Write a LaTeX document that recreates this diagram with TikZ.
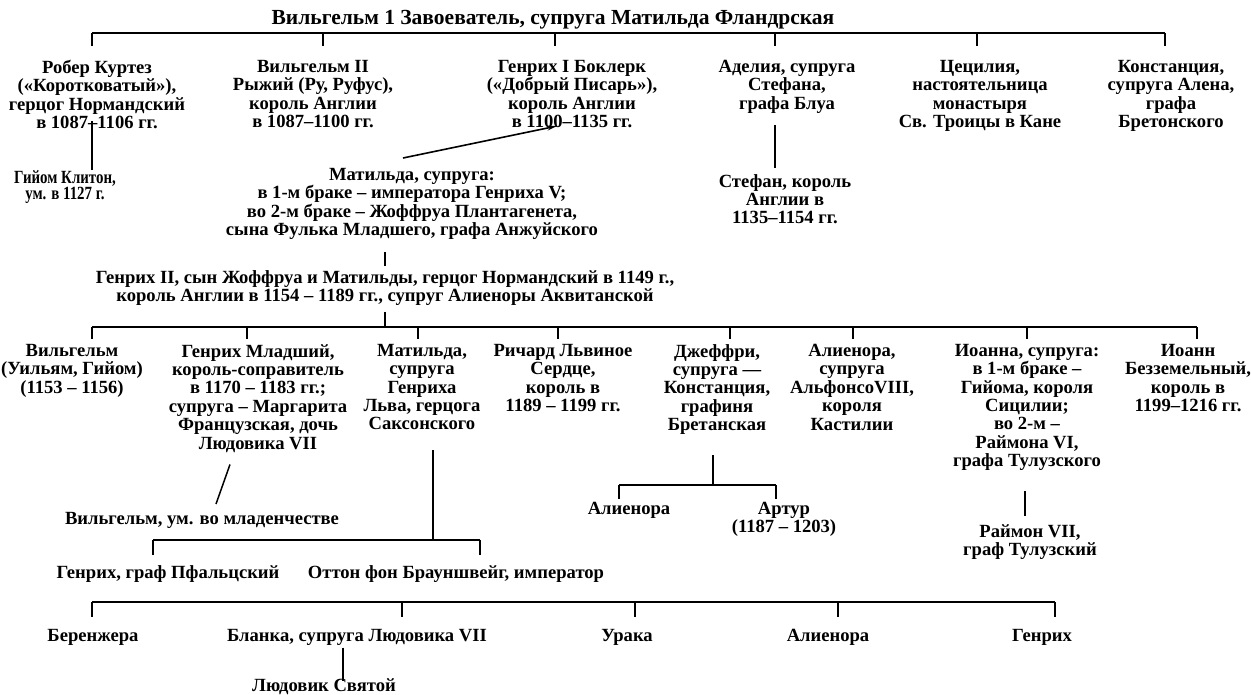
\documentclass[tikz,border=0pt]{standalone}
\usepackage{fontspec}
\setmainfont{Liberation Serif}
\newfontfamily\condfont[FakeStretch=0.8]{Liberation Serif}
\usetikzlibrary{calc,arrows.meta}
\newcommand\fsz{\fontsize{18.6}{18.4}\selectfont\bfseries}
\newcommand\fcond{\fontsize{18.6}{16.5}\condfont\bfseries}
\newcommand\ftitle{\fontsize{21.5}{22}\selectfont\bfseries}
\begin{document}
\begin{tikzpicture}[x=1pt,y=-1pt,
  p/.style={font=\fsz, align=center, inner sep=0pt, anchor=north},
  ln/.style={line width=1.5pt, line cap=butt}]
\useasboundingbox (0,0) rectangle (1251,694);

% ---------- generation 1 ----------
\node[p,font=\ftitle] (title) at (553,10) {Вильгельм 1 Завоеватель, супруга Матильда Фландрская};

\node[p] (robert) at (97,60) {Робер Куртез\\(«Коротковатый»),\\герцог Нормандский\\в 1087–1106 гг.};
\node[p] (will2) at (313,60) {Вильгельм II\\Рыжий (Ру, Руфус),\\король Англии\\в 1087–1100 гг.};
\node[p] (henry1) at (572,60) {Генрих I Боклерк\\(«Добрый Писарь»),\\король Англии\\в 1100–1135 гг.};
\node[p] (adelia) at (787,60) {Аделия, супруга\\Стефана,\\графа Блуа};
\node[p] (cecilia) at (980,60) {Цецилия,\\настоятельница\\монастыря\\Св. Троицы в Кане};
\node[p] (constance) at (1171,60) {Констанция,\\супруга Алена,\\графа\\Бретонского};

\coordinate (tbw) at (92,33);
\coordinate (tbe) at (1165,33);
\draw[ln] (tbw) -- (tbe);
\foreach \x in {92,323,555,775,977,1165} \draw[ln] (\x,33) -- ++(0,13);

% ---------- generation 2 ----------
\node[p,font=\fcond] (gijom) at (65,170) {Гийом Клитон,\\ум. в 1127 г.};
\node[p] (matilda) at (412,168) {Матильда, супруга:\\в 1-м браке – императора Генриха V;\\во 2-м браке – Жоффруа Плантагенета,\\сына Фулька Младшего, графа Анжуйского};
\node[p] (stephen) at (785,174) {Стефан, король\\Англии в\\1135–1154 гг.};

\draw[ln] ([shift={(-5,-8)}]robert.south) -- ([shift={(-5,0)}]robert.south |- gijom.north);
\draw[ln] ([yshift=-12pt]adelia.south -| 775,0) -- ([yshift=6pt]stephen.north -| 775,0);
\draw[line width=1.6pt,-{Stealth[length=10pt,width=5pt]}] ([shift={(-9,-10)}]matilda.north) -- ([shift={(-15,-2)}]henry1.south);

% ---------- Henry II ----------
\node[p] (henry2) at (385,270) {Генрих II, сын Жоффруа и Матильды, герцог Нормандский в 1149 г.,\\король Англии в 1154 – 1189 гг., супруг Алиеноры Аквитанской};
\draw[ln] ([yshift=-12pt]matilda.south -| 385,0) -- ([yshift=4pt]henry2.north);
\draw[ln] ([yshift=-6pt]henry2.south) -- (385,327);

% ---------- generation 3 ----------
\coordinate (mbw) at (92,327);
\coordinate (mbe) at (1197,327);
\draw[ln] (mbw) -- (mbe);
\foreach \x in {92,247,418,558,730,853,1027,1197} \draw[ln] (\x,327) -- ++(0,12);

\node[p] (will3) at (72,344) {Вильгельм\\(Уильям, Гийом)\\(1153 – 1156)};
\node[p] (henryY) at (258,344) {Генрих Младший,\\король-соправитель\hspace*{40pt}\\в 1170 – 1183 гг.;\\супруга – Маргарита\\Французская, дочь\\Людовика VII};
\node[p] (matilda2) at (422,344) {Матильда,\\супруга\\Генриха\\Льва, герцога\\Саксонского};
\node[p] (richard) at (563,344) {Ричард Львиное\\Сердце,\\король в\\1189 – 1199 гг.};
\node[p] (geoffrey) at (717,344) {Джеффри,\\супруга —\\Констанция,\\графиня\\Бретанская};
\node[p] (eleanor) at (852,344) {Алиенора,\\супруга\\АльфонсоVIII,\\короля\\Кастилии};
\node[p] (joan) at (1027,344) {Иоанна, супруга:\\в 1-м браке –\\Гийома, короля\\Сицилии;\\во 2-м –\\Раймона VI,\\графа Тулузского};
\node[p] (john) at (1188,344) {Иоанн\\Безземельный,\\король в\\1199–1216 гг.};

% ---------- generation 4 ----------
\node[p] (willinf) at (202,512) {Вильгельм, ум. во младенчестве};
\draw[ln] ([shift={(-28,12)}]henryY.south) -- ([shift={(14,-8)}]willinf.north);

\node[p] (geoA) at (629,502) {Алиенора};
\node[p] (arthur) at (784,502) {Артур\\(1187 – 1203)};
\coordinate (gbw) at (619,485);
\coordinate (gbe) at (776,485);
\draw[ln] ([yshift=-20pt]geoffrey.south -| 713,0) -- (gbw -| 713,0);
\draw[ln] (gbw) -- (gbe);
\draw[ln] (gbw) -- ++(0,14);
\draw[ln] (gbe) -- ++(0,14);

\node[p] (raymond) at (1030,524) {Раймон VII,\\граф Тулузский};
\draw[ln] ([yshift=-20pt]joan.south -| 1025,0) -- ([yshift=8pt]raymond.north -| 1025,0);

\coordinate (sbw) at (153,540);
\coordinate (sbe) at (480,540);
\draw[ln] ([yshift=-20pt]matilda2.south -| 433,0) -- (sbw -| 433,0);
\draw[ln] (sbw) -- (sbe);
\draw[ln] (sbw) -- ++(0,15);
\draw[ln] (sbe) -- ++(0,15);
\node[p] (henryP) at (168,565) {Генрих, граф Пфальцский};
\node[p] (otto) at (456,565) {Оттон фон Брауншвейг, император};

% ---------- generation 5 ----------
\coordinate (bbw) at (92,602);
\coordinate (bbe) at (1055,602);
\draw[ln] (bbw) -- (bbe);
\foreach \x in {92,402,635,838,1055} \draw[ln] (\x,602) -- ++(0,15);

\node[p] (ber) at (93,629) {Беренжера};
\node[p] (blanca) at (357,629) {Бланка, супруга Людовика VII};
\node[p] (urraca) at (627,629) {Урака};
\node[p] (eleanor2) at (828,629) {Алиенора};
\node[p] (henryB) at (1042,629) {Генрих};

\node[p] (louis) at (324,678) {Людовик Святой};
\draw[ln] ([yshift=-2pt]blanca.south -| 343,0) -- ([yshift=-3pt]louis.north -| 343,0);
\end{tikzpicture}
\end{document}
